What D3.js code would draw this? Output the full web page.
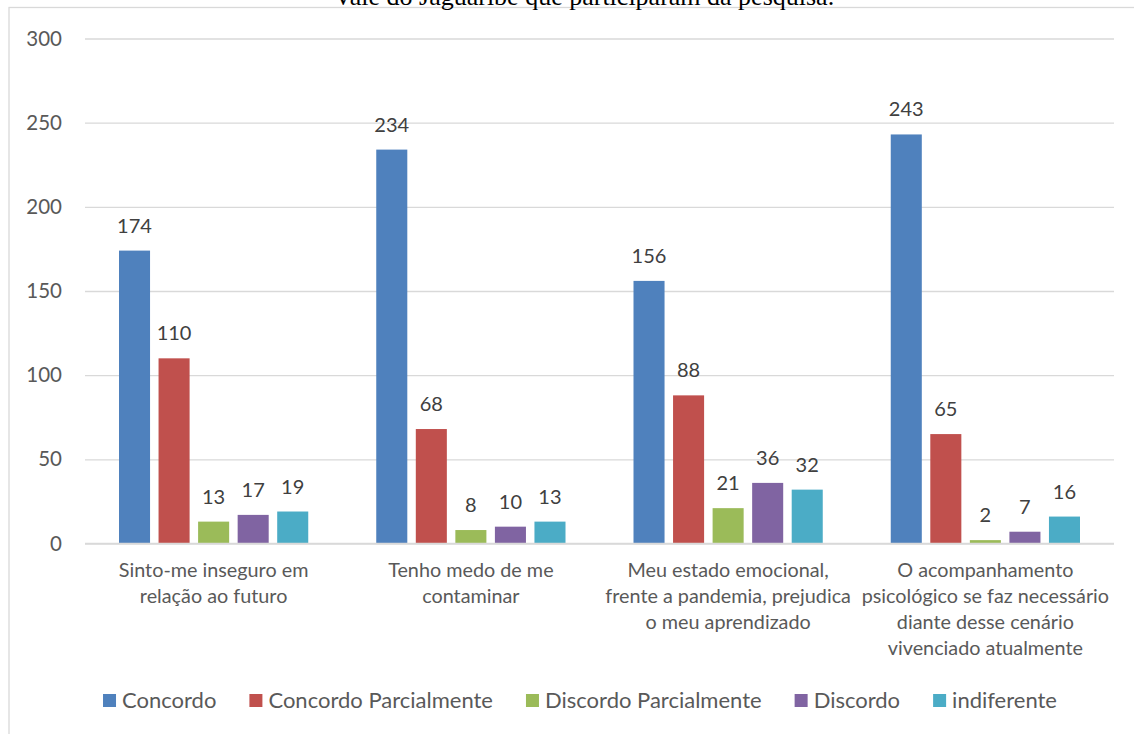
<!DOCTYPE html>
<html>
<head>
<meta charset="utf-8">
<script src="https://cdn.jsdelivr.net/npm/d3@7"></script>
<style>
  html, body { margin: 0; padding: 0; background: #fff; overflow: hidden; }
  svg { display: block; }
</style>
</head>
<body>
<svg id="chart" width="1134" height="734"></svg>
<script>
const titleText = "Vale do Jaguaribe que participaram da pesquisa.";
const categories = [
  "Sinto-me inseguro em\nrelação ao futuro",
  "Tenho medo de me\ncontaminar",
  "Meu estado emocional,\nfrente a pandemia, prejudica\no meu aprendizado",
  "O acompanhamento\npsicológico se faz necessário\ndiante desse cenário\nvivenciado atualmente"
];
const seriesNames = ["Concordo", "Concordo Parcialmente", "Discordo Parcialmente", "Discordo", "indiferente"];
const seriesColors = ["#4F81BD", "#C0504D", "#9BBB59", "#8064A2", "#4BACC6"];
const concordo = [174, 234, 156, 243];
const concordoParcialmente = [110, 68, 88, 65];
const discordoParcialmente = [13, 8, 21, 2];
const discordo = [17, 10, 36, 7];
const indiferente = [19, 13, 32, 16];
const yTicks = [0, 50, 100, 150, 200, 250, 300];

const seriesValues = [concordo, concordoParcialmente, discordoParcialmente, discordo, indiferente];

const svg = d3.select("#chart");
const font = "Lato, 'Open Sans', sans-serif";

// chart frame (extends past the viewport)
svg.append("rect")
  .attr("x", 9).attr("y", 7.5).attr("width", 1200).attr("height", 800)
  .attr("fill", "none").attr("stroke", "#d9d9d9").attr("stroke-width", 1.3);

// title (cut at top, as in the reference)
svg.append("text")
  .attr("x", 584).attr("y", 5)
  .attr("text-anchor", "middle")
  .attr("font-family", "'Liberation Serif', 'Times New Roman', serif")
  .attr("font-size", 26)
  .attr("fill", "#000")
  .text(titleText);

const plotLeft = 85, plotRight = 1114, plotTop = 38.5, plotBottom = 543.5;

const y = d3.scaleLinear().domain([0, 300]).range([plotBottom, plotTop]);
const x0 = d3.scaleBand().domain(d3.range(categories.length)).range([plotLeft, plotRight]).padding(0);
const inner = 34;
const x1 = d3.scaleBand().domain(d3.range(seriesNames.length))
  .range([inner, x0.bandwidth() - inner]).paddingInner(0.215).paddingOuter(0);

// gridlines
const yAxis = d3.axisLeft(y).tickValues(yTicks).tickSize(-(plotRight - plotLeft)).tickPadding(23);
const gAxis = svg.append("g").attr("transform", `translate(${plotLeft},0)`).call(yAxis);
gAxis.select(".domain").remove();
gAxis.selectAll(".tick line").attr("stroke", "#d9d9d9").attr("stroke-width", 1.3);
gAxis.selectAll(".tick text")
  .attr("font-family", font).attr("font-size", 20.5).attr("fill", "#595959");

// bars
const groups = svg.append("g").selectAll("g")
  .data(categories).join("g")
  .attr("transform", (d, i) => `translate(${x0(i)},0)`);

groups.selectAll("rect")
  .data((d, i) => seriesValues.map((vals, s) => ({ s, v: vals[i] })))
  .join("rect")
  .attr("x", d => x1(d.s))
  .attr("width", x1.bandwidth())
  .attr("y", d => y(d.v))
  .attr("height", d => y(0) - y(d.v))
  .attr("fill", d => seriesColors[d.s]);

groups.selectAll("text.val")
  .data((d, i) => seriesValues.map((vals, s) => ({ s, v: vals[i] })))
  .join("text")
  .attr("class", "val")
  .attr("x", d => x1(d.s) + x1.bandwidth() / 2)
  .attr("y", d => y(d.v) - 18)
  .attr("text-anchor", "middle")
  .attr("font-family", font).attr("font-size", 20).attr("fill", "#404040")
  .text(d => d.v);

// baseline over bars
svg.append("line")
  .attr("x1", plotLeft).attr("x2", plotRight).attr("y1", y(0)).attr("y2", y(0))
  .attr("stroke", "#d9d9d9").attr("stroke-width", 1.3);

// category labels
groups.append("text")
  .attr("text-anchor", "middle")
  .attr("font-family", font).attr("font-size", 19.8).attr("fill", "#595959")
  .selectAll("tspan")
  .data(d => d.split("\n"))
  .join("tspan")
  .attr("x", x0.bandwidth() / 2)
  .attr("y", (d, i) => 577 + i * 26)
  .text(d => d);

// legend
const legend = svg.append("g");
const items = legend.selectAll("g").data(seriesNames).join("g");
items.append("rect").attr("width", 13).attr("height", 13).attr("y", -14)
  .attr("fill", (d, i) => seriesColors[i]);
items.append("text").attr("x", 19).attr("y", 0)
  .attr("font-family", font).attr("font-size", 22).attr("fill", "#595959")
  .text(d => d);
let cx = 0;
items.each(function () {
  const g = d3.select(this);
  g.attr("transform", `translate(${cx},0)`);
  cx += 19 + g.select("text").node().getComputedTextLength() + 33;
});
const total = cx - 33;
legend.attr("transform", `translate(${580 - total / 2},708)`);
</script>
</body>
</html>
